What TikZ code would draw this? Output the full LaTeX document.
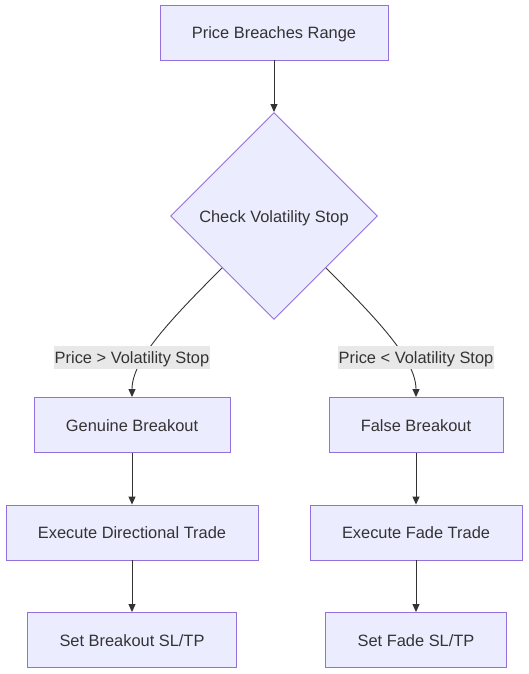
\documentclass[tikz,border=0pt]{standalone}
\usepackage{fontspec}
\setmainfont{Liberation Sans}
\usetikzlibrary{shapes.geometric,arrows.meta}
\definecolor{boxfill}{HTML}{ECECFF}
\definecolor{boxline}{HTML}{9370DB}
\definecolor{inktext}{HTML}{333333}
\definecolor{lblfill}{HTML}{E8E8E8}
\tikzset{
  stepbox/.style={draw=boxline, fill=boxfill, line width=0.9pt, text=inktext,
    minimum height=55pt, inner sep=0pt, text height=13.5pt, text depth=1.5pt,
    font=\fontsize{16.4}{19}\selectfont},
  checkbox/.style={draw=boxline, fill=boxfill, line width=0.9pt, text=inktext,
    diamond, minimum width=207pt, minimum height=207pt, inner sep=0pt,
    text height=13.5pt, text depth=1.5pt, font=\fontsize{16.4}{19}\selectfont},
  lbl/.style={fill=lblfill, text=inktext, inner xsep=1pt, inner ysep=0pt,
    minimum height=23pt, text height=13.5pt, text depth=1.5pt,
    font=\fontsize{16.4}{19}\selectfont},
  link/.style={draw=inktext, line width=0.9pt, -{Triangle[length=8pt,width=7pt]}}
}
\begin{document}
\begin{tikzpicture}[x=1pt, y=-1pt]
    \useasboundingbox (0,0) rectangle (529,674);

    % 1. 主干节点
    \node[stepbox, minimum width=228pt] (range) at (274, 32.5) {Price Breaches Range};
    \node[checkbox] (chk) at (274, 216) {Check Volatility Stop};

    % 2. 左右两支
    \node[stepbox, minimum width=196pt] (genuine) at (132, 425) {Genuine Breakout};
    \node[stepbox, minimum width=252pt] (dirtrade) at (132, 532.5) {Execute Directional Trade};
    \node[stepbox, minimum width=209pt] (bkslt) at (132, 640) {Set Breakout SL/TP};

    \node[stepbox, minimum width=174pt] (falsebk) at (416, 425) {False Breakout};
    \node[stepbox, minimum width=212pt] (fadetrade) at (416, 532.5) {Execute Fade Trade};
    \node[stepbox, minimum width=181pt] (fadeslt) at (416, 640) {Set Fade SL/TP};

    % 3. 连线
    \draw[link] (range) -- (chk);
    \draw[link] (chk.south west) .. controls (170, 320) and (132, 360) .. (genuine.north);
    \draw[link] (chk.south east) .. controls (378, 320) and (416, 360) .. (falsebk.north);
    \draw[link] (genuine) -- (dirtrade);
    \draw[link] (dirtrade) -- (bkslt);
    \draw[link] (falsebk) -- (fadetrade);
    \draw[link] (fadetrade) -- (fadeslt);

    % 4. 条件标注
    \node[lbl] (gtlbl) at (132, 357.5) {Price > Volatility Stop};
    \node[lbl] (ltlbl) at (416, 357.5) {Price < Volatility Stop};

\end{tikzpicture}
\end{document}
